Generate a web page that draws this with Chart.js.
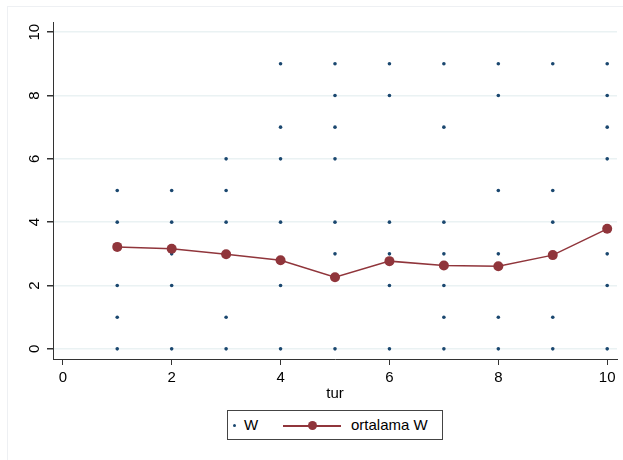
<!DOCTYPE html>
<html>
<head>
<meta charset="utf-8">
<script src="https://cdn.jsdelivr.net/npm/chart.js@4/dist/chart.umd.min.js"></script>
<style>
  html, body { margin: 0; padding: 0; background: #fff; }
  #wrap { position: relative; width: 623px; height: 460px; font-family: "Liberation Sans", Arial, sans-serif; }
  #frame { position: absolute; left: 7px; top: 6px; right: 0; bottom: 0; border-top: 1px solid #eef0f3; border-left: 1px solid #eef0f3; }
  #legend { position: absolute; left: 227px; top: 410px; width: 214px; height: 28px; border: 1px solid #444;
    background: #fff; font-size: 15px; color: #000; }
  #legend span { position: absolute; }
  .dot { width: 3px; height: 3px; border-radius: 50%; background: #1a476f; }
  .line { height: 1.5px; background: #90353b; }
  .mark { width: 9px; height: 9px; border-radius: 50%; background: #90353b; }
</style>
</head>
<body>
<div id="wrap">
  <div id="frame"></div>
  <canvas id="chart" width="623" height="460"></canvas>
  <div id="legend">
    <span class="dot" style="left:5px; top:13px;"></span>
    <span style="left:16px; top:5px;">W</span>
    <span class="line" style="left:55px; top:14px; width:58px;"></span>
    <span class="mark" style="left:80px; top:10px;"></span>
    <span style="left:123px; top:5px;">ortalama W</span>
  </div>
</div>
<script>
const turs = [1, 2, 3, 4, 5, 6, 7, 8, 9, 10];
// W values seen at each tur
const wByTur = [
  [0, 1, 2, 4, 5],
  [0, 2, 3, 4, 5],
  [0, 1, 4, 5, 6],
  [0, 2, 4, 6, 7, 9],
  [0, 3, 4, 6, 7, 8, 9],
  [0, 2, 3, 4, 8, 9],
  [0, 1, 2, 3, 4, 7, 9],
  [0, 1, 3, 5, 8, 9],
  [0, 1, 4, 5, 9],
  [0, 2, 3, 6, 7, 8, 9]
];
const meanW = [3.22, 3.16, 2.99, 2.8, 2.26, 2.77, 2.63, 2.61, 2.96, 3.79];
const tickValues = [0, 2, 4, 6, 8, 10];

const wPoints = [];
turs.forEach((t, i) => wByTur[i].forEach(w => wPoints.push({ x: t, y: w })));
const meanPoints = turs.map((t, i) => ({ x: t, y: meanW[i] }));

const axisColor = "#333";
const font = { family: "'Liberation Sans', Arial, sans-serif", size: 15 };

new Chart(document.getElementById("chart"), {
  type: "scatter",
  data: {
    datasets: [
      {
        label: "ortalama W",
        data: meanPoints,
        showLine: true,
        borderColor: "#90353b",
        borderWidth: 1.5,
        backgroundColor: "#90353b",
        pointRadius: 5,
        pointBorderWidth: 0,
        order: 0
      },
      {
        label: "W",
        data: wPoints,
        backgroundColor: "#1a476f",
        borderWidth: 0,
        pointRadius: 1.8,
        order: 1
      }
    ]
  },
  options: {
    responsive: false,
    animation: false,
    layout: { padding: { left: 0, top: 22, right: 6, bottom: 57 } },
    plugins: { legend: { display: false }, tooltip: { enabled: false } },
    scales: {
      x: {
        type: "linear",
        min: -0.18,
        max: 10.18,
        afterBuildTicks: s => { s.ticks = tickValues.map(v => ({ value: v })); },
        afterFit: s => { s.height = 44; },
        grid: { drawOnChartArea: false, drawTicks: true, tickLength: 6, tickColor: axisColor },
        border: { color: axisColor, width: 1 },
        ticks: { color: "#000", font, padding: 4, maxRotation: 0 },
        title: { display: true, text: "tur", color: "#000", font, padding: 0 }
      },
      y: {
        type: "linear",
        min: -0.32,
        max: 10.32,
        afterBuildTicks: s => { s.ticks = tickValues.map(v => ({ value: v })); },
        afterFit: s => { s.width = 53; },
        grid: { color: "#eaf2f3", lineWidth: 1.5, drawTicks: true, tickLength: 6, tickColor: axisColor },
        border: { color: axisColor, width: 1 },
        ticks: { color: "#000", font, padding: 4, minRotation: 90, maxRotation: 90, crossAlign: "center" }
      }
    }
  }
});
</script>
</body>
</html>
